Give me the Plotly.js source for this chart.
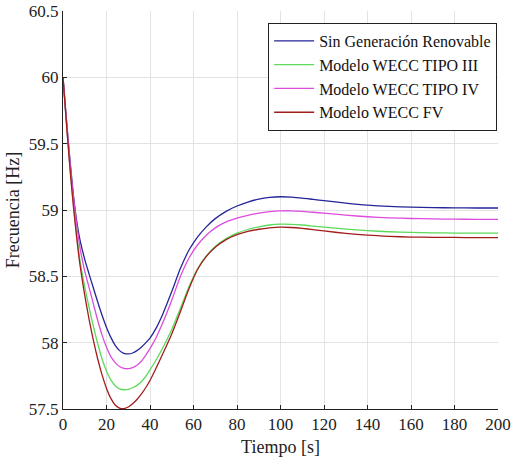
<!DOCTYPE html>
<html>
<head>
<meta charset="utf-8">
<script src="https://cdn.plot.ly/plotly-3.0.1.min.js"></script>
<style>html,body{margin:0;padding:0;background:#fff;}#chart{width:513px;height:466px;}</style>
</head>
<body>
<div id="chart"></div>
<script>
const tiempo = [0,1,2,3,4,5,6,7,8,10,12,14,16,18,20,22,24,26,28,30,32,34,36,38,40,43,46,50,54,58,62,66,70,75,80,85,90,95,100,105,110,115,120,130,140,150,160,170,180,190,200];

const sinGeneracion = [60.00,59.80,59.60,59.415,59.24,59.08,58.95,58.845,58.76,58.628,58.517,58.41,58.305,58.205,58.115,58.04,57.98,57.94,57.92,57.915,57.922,57.94,57.965,57.998,58.035,58.115,58.22,58.385,58.56,58.70,58.80,58.875,58.935,58.99,59.03,59.06,59.082,59.095,59.10,59.097,59.09,59.08,59.07,59.052,59.037,59.027,59.021,59.018,59.016,59.015,59.015];

const tipoIII = [60.00,59.78,59.57,59.37,59.18,59.01,58.858,58.72,58.60,58.42,58.265,58.12,57.99,57.875,57.785,57.72,57.675,57.652,57.645,57.648,57.66,57.678,57.705,57.745,57.795,57.875,57.965,58.10,58.26,58.425,58.56,58.655,58.725,58.785,58.825,58.853,58.873,58.887,58.893,58.892,58.887,58.879,58.871,58.856,58.844,58.836,58.831,58.828,58.826,58.825,58.825];

const tipoIV = [60.00,59.79,59.59,59.40,59.225,59.068,58.93,58.805,58.698,58.54,58.415,58.29,58.165,58.055,57.965,57.895,57.85,57.82,57.806,57.804,57.812,57.83,57.86,57.905,57.955,58.045,58.155,58.32,58.50,58.64,58.74,58.812,58.865,58.91,58.938,58.96,58.976,58.987,58.993,58.994,58.99,58.983,58.976,58.961,58.949,58.941,58.936,58.933,58.931,58.93,58.93];

const fv = [60.00,59.78,59.56,59.355,59.165,58.992,58.835,58.69,58.565,58.357,58.175,58.015,57.875,57.755,57.655,57.58,57.53,57.507,57.503,57.515,57.54,57.572,57.612,57.66,57.715,57.815,57.92,58.065,58.235,58.41,58.555,58.652,58.72,58.777,58.814,58.838,58.855,58.866,58.871,58.868,58.861,58.852,58.842,58.824,58.81,58.801,58.796,58.794,58.793,58.792,58.792];

const nombres = ["Sin Generación Renovable","Modelo WECC TIPO III","Modelo WECC TIPO IV","Modelo WECC FV"];
const colores = ["#25259a","#5cda5c","#dd4ddd","#a31c1c"];
const series = [sinGeneracion, tipoIII, tipoIV, fv];

const xTicks = [0,20,40,60,80,100,120,140,160,180,200];
const yTicks = [57.5,58,58.5,59,59.5,60,60.5];

const traces = series.map((s,i)=>({
  x: tiempo, y: s, type:'scatter', mode:'lines', name: nombres[i],
  line:{color: colores[i], width:1.3, shape:'spline', smoothing:0.7}
}));

const fam = 'Liberation Serif, Times New Roman, serif';
const tick = {family:fam, size:17, color:'#222'};
const ttl = {family:fam, size:18, color:'#222'};

const layout = {
  width:513, height:466,
  margin:{l:63, r:15, t:11, b:57},
  paper_bgcolor:'#fff', plot_bgcolor:'#fff',
  font: tick,
  showlegend:true,
  legend:{x:0.998, xanchor:'right', y:0.970, yanchor:'top',
    bgcolor:'#fff', bordercolor:'#222', borderwidth:1,
    font:{family:fam, size:16, color:'#111'},
    itemwidth:40, tracegroupgap:0},
  xaxis:{range:[0,200], tickvals:xTicks, ticktext:xTicks.map(String),
    showgrid:true, gridcolor:'#e3e3e3', gridwidth:1,
    showline:true, linecolor:'#222', linewidth:1, mirror:false,
    ticks:'inside', ticklen:4, tickcolor:'#222', zeroline:false,
    tickfont:tick,
    title:{text:'Tiempo [s]', font:ttl, standoff:6}},
  yaxis:{range:[57.5,60.5], tickvals:yTicks, ticktext:yTicks.map(String),
    showgrid:true, gridcolor:'#e3e3e3', gridwidth:1,
    showline:true, linecolor:'#222', linewidth:1, mirror:false,
    ticks:'inside', ticklen:4, tickcolor:'#222', zeroline:false,
    tickfont:tick,
    title:{text:'Frecuencia [Hz]', font:ttl, standoff:4}}
};

Plotly.newPlot('chart', traces, layout, {displayModeBar:false, staticPlot:true});
</script>
</body>
</html>
